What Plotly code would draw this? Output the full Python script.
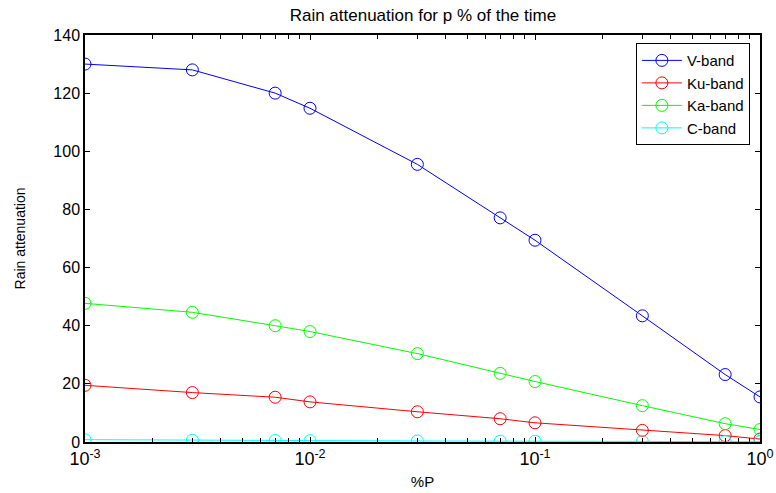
import plotly.graph_objects as go

p_percent = [0.001, 0.003, 0.007, 0.01, 0.03, 0.07, 0.1, 0.3, 0.7, 1.0]
v_band = [130.0, 128.0, 120.0, 114.8, 95.5, 77.1, 69.4, 43.4, 23.2, 15.5]
ku_band = [19.5, 17.0, 15.4, 13.8, 10.4, 8.0, 6.6, 4.0, 2.2, 1.0]
ka_band = [47.7, 44.6, 40.0, 38.0, 30.4, 23.6, 20.8, 12.5, 6.3, 4.3]
c_band = [0.8, 0.6, 0.5, 0.45, 0.35, 0.3, 0.25, 0.2, 0.15, 0.1]

series_names = ["V-band", "Ku-band", "Ka-band", "C-band"]
series_values = [v_band, ku_band, ka_band, c_band]
series_colors = ["#0000ff", "#ff0000", "#00ff00", "#00ffff"]

x_tick_vals = [0.001, 0.01, 0.1, 1]
x_tick_text = ["10<sup>-3</sup>", "10<sup>-2</sup>", "10<sup>-1</sup>", "10<sup>0</sup>"]
y_tick_vals = [0, 20, 40, 60, 80, 100, 120, 140]

minor_vals = [m * d for d in [0.001, 0.01, 0.1] for m in range(2, 10)]

fig = go.Figure()
for name, vals, col in zip(series_names, series_values, series_colors):
    fig.add_trace(go.Scatter(
        x=p_percent, y=vals, name=name, mode="lines+markers",
        line=dict(color=col, width=1),
        marker=dict(symbol="circle-open", size=12, color=col, line=dict(width=1, color=col)),
    ))

font_family = "Liberation Sans, Arial, sans-serif"
fig.update_layout(
    width=776, height=493,
    margin=dict(l=85, r=16, t=35, b=51, autoexpand=False),
    paper_bgcolor="white", plot_bgcolor="white",
    font=dict(family=font_family, size=14, color="black"),
    title=dict(text="Rain attenuation for p % of the time", x=0.545, xanchor="center",
               y=0.97, yanchor="middle", automargin=False, font=dict(size=17, color="black")),
    showlegend=True,
    legend=dict(x=0.985, xanchor="right", y=0.98, yanchor="top",
                bordercolor="black", borderwidth=1, bgcolor="white",
                font=dict(size=15), itemwidth=40, tracegroupgap=0),
)
fig.update_xaxes(
    type="log", range=[-3, 0], automargin=False,
    tickmode="array", tickvals=x_tick_vals, ticktext=x_tick_text,
    ticks="inside", ticklen=5, tickcolor="black", tickwidth=1,
    showline=True, linecolor="black", linewidth=1.5, mirror="ticks",
    showgrid=False, zeroline=False,
    tickfont=dict(size=18),
    minor=dict(tickvals=minor_vals, ticks="inside", ticklen=4, tickcolor="black", showgrid=False),
    title=dict(text="%P", font=dict(size=15), standoff=8),
)
fig.update_yaxes(
    range=[0, 140], tickmode="array", tickvals=y_tick_vals, automargin=False,
    ticks="inside", ticklen=5, tickcolor="black", tickwidth=1,
    showline=True, linecolor="black", linewidth=1.5, mirror="ticks",
    showgrid=False, zeroline=False,
    tickfont=dict(size=16),
    title=dict(text="Rain attenuation", font=dict(size=14), standoff=24),
)

fig.write_html("out.html", config={"displayModeBar": False},
               post_script="document.body.style.margin='0';document.body.style.overflow='hidden';")
